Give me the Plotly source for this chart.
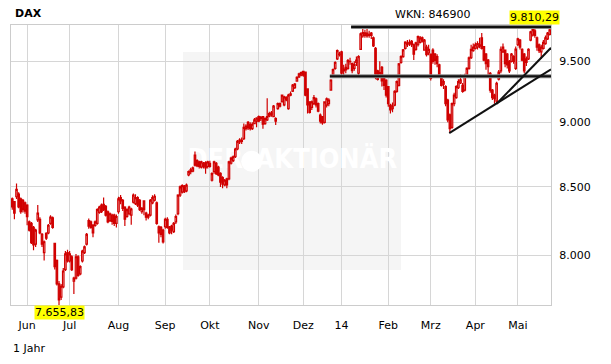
import math
import pandas as pd
import plotly.graph_objects as go

# ---------------- data (DAX daily candles) ----------------
open_px = [
    8410, 8390, 8426, 8446, 8410, 8400, 8380,  # May 2013
    8364, 8240, 8230, 8200, 8080, 8255, 8260, 8150, 8020, 8158, 8160, 8230, 8270, 8086, 7965, 7800, 7710, 7780, 7900, 8020,  # Jun
    7960, 7990, 7820, 7840, 7990, 7870, 7960, 8020, 8080, 8250, 8240, 8215, 8215, 8230, 8310, 8364, 8370, 8355, 8315, 8250, 8290, 8290, 8230,  # Jul
    8315, 8420, 8400, 8350, 8280, 8300, 8290, 8385, 8375, 8420, 8400, 8315, 8395, 8305, 8275, 8290, 8380, 8400, 8380, 8205, 8200, 8180,  # Aug
    8205, 8260, 8205, 8210, 8170, 8240, 8300, 8438, 8460, 8505, 8470, 8590, 8615, 8620, 8743, 8700, 8690, 8650, 8680, 8685, 8655,  # Sep
    8680, 8550, 8615, 8680, 8650, 8603, 8570, 8515, 8560, 8560, 8680, 8700, 8730, 8790, 8845, 8860, 8870, 8950, 9000, 8985, 8950, 8990, 9010,  # Oct
    9045, 9040, 9045, 8990, 9020, 9050, 9075, 9045, 9030, 9110, 9150, 9165, 9140, 9200, 9110, 9220, 9253, 9280, 9335, 9370, 9385,  # Nov
    9415, 9410, 9270, 9165, 9120, 9150, 9190, 9150, 9058, 9045, 9000, 9139, 9150, 9261, 9380, 9440, 9520, 9560,  # Dec
    9580, 9420, 9450, 9440, 9500, 9480, 9440, 9490, 9400, 9600, 9715, 9720, 9740, 9720, 9740, 9700, 9610, 9420, 9380, 9450, 9355, 9344,  # Jan 2014
    9290, 9139, 9110, 9139, 9250, 9300, 9490, 9540, 9610, 9640, 9650, 9670, 9640, 9600, 9640, 9660, 9700, 9595, 9620, 9570,  # Feb
    9560, 9595, 9560, 9540, 9470, 9370, 9310, 9290, 9180, 9060, 8960, 9150, 9200, 9280, 9320, 9300, 9260, 9380, 9440, 9530, 9590,  # Mar
    9610, 9620, 9640, 9700, 9625, 9560, 9510, 9400, 9260, 9220, 9170, 9350, 9420, 9580, 9595, 9560, 9500, 9500, 9540, 9440,  # Apr
    9640, 9680, 9600, 9560, 9520, 9520, 9680, 9724, 9760, 9700, 9640, 9580, 9610, 9650, 9690, 9730,  # May
]
high_px = [
    8420, 8395, 8526, 8460, 8420, 8410, 8390,
    8370, 8250, 8240, 8210, 8190, 8364, 8275, 8160, 8105, 8165, 8225, 8290, 8280, 8090, 7970, 7820, 7800, 7910, 8030, 8040,
    8030, 8000, 7850, 8010, 8000, 7930, 8040, 8070, 8160, 8265, 8250, 8225, 8250, 8340, 8360, 8375, 8420, 8365, 8325, 8310, 8300, 8300, 8295,
    8426, 8440, 8410, 8355, 8340, 8360, 8345, 8450, 8445, 8430, 8410, 8350, 8400, 8315, 8300, 8410, 8438, 8445, 8390, 8215, 8210, 8190,
    8270, 8275, 8210, 8220, 8240, 8295, 8445, 8510, 8520, 8515, 8525, 8625, 8645, 8655, 8770, 8710, 8700, 8700, 8690, 8695, 8700,
    8700, 8610, 8700, 8690, 8660, 8610, 8580, 8560, 8570, 8700, 8730, 8740, 8800, 8860, 8875, 8880, 8990, 8985, 9010, 9000, 9000, 9035, 9040,
    9055, 9050, 9050, 9040, 9195, 9085, 9090, 9140, 9040, 9160, 9160, 9225, 9215, 9210, 9230, 9250, 9310, 9320, 9375, 9405, 9415,
    9420, 9415, 9275, 9170, 9175, 9220, 9200, 9160, 9070, 9050, 9170, 9200, 9195, 9350, 9440, 9500, 9600, 9580,
    9590, 9470, 9480, 9520, 9530, 9490, 9500, 9540, 9550, 9745, 9790, 9770, 9790, 9760, 9750, 9710, 9620, 9430, 9500, 9460, 9380, 9350,
    9295, 9150, 9160, 9260, 9340, 9485, 9550, 9605, 9670, 9680, 9685, 9680, 9650, 9665, 9720, 9715, 9710, 9690, 9640, 9640,
    9565, 9610, 9570, 9560, 9480, 9380, 9350, 9300, 9190, 9070, 9160, 9240, 9300, 9350, 9390, 9320, 9395, 9450, 9540, 9640, 9650,
    9660, 9670, 9700, 9740, 9630, 9570, 9520, 9410, 9270, 9230, 9330, 9427, 9625, 9650, 9600, 9570, 9510, 9570, 9550, 9625,
    9700, 9690, 9610, 9570, 9540, 9610, 9760, 9790, 9810.29, 9710, 9650, 9640, 9680, 9720, 9750, 9775,
]
low_px = [
    8330, 8260, 8410, 8340, 8300, 8310, 8300,
    8216, 8170, 8080, 8036, 8060, 8240, 8150, 8060, 7964, 8110, 8150, 8220, 8190, 7900, 7790, 7655.83, 7690, 7770, 7890, 7950,
    7950, 7890, 7730, 7830, 7850, 7860, 7950, 8010, 8070, 8190, 8190, 8130, 8205, 8220, 8300, 8305, 8320, 8280, 8230, 8240, 8220, 8210, 8200,
    8300, 8370, 8320, 8210, 8270, 8290, 8220, 8375, 8365, 8350, 8320, 8300, 8290, 8250, 8260, 8280, 8370, 8390, 8220, 8090, 8130, 8085,
    8190, 8190, 8150, 8150, 8160, 8225, 8290, 8425, 8450, 8455, 8460, 8580, 8595, 8610, 8655, 8650, 8640, 8640, 8640, 8600, 8640,
    8645, 8540, 8600, 8590, 8580, 8500, 8490, 8505, 8490, 8550, 8670, 8690, 8720, 8780, 8830, 8830, 8860, 8935, 8940, 8935, 8940, 8985, 8960,
    9000, 9010, 8950, 8980, 9010, 9040, 9045, 9040, 8978, 9100, 9120, 9160, 9130, 9170, 9100, 9210, 9245, 9270, 9330, 9360, 9375,
    9370, 9210, 9070, 9070, 9099, 9140, 9120, 9080, 8990, 8980, 8990, 9120, 9130, 9255, 9370, 9430, 9510, 9540,
    9380, 9370, 9400, 9430, 9470, 9400, 9420, 9460, 9385, 9595, 9700, 9700, 9700, 9700, 9690, 9620, 9350, 9340, 9370, 9290, 9261, 9200,
    9125, 9070, 9080, 9130, 9240, 9290, 9480, 9530, 9600, 9620, 9630, 9620, 9510, 9590, 9625, 9650, 9660, 9590, 9540, 9550,
    9340, 9480, 9470, 9450, 9370, 9290, 9270, 9130, 9000, 8915, 8950, 9130, 9190, 9270, 9310, 9240, 9250, 9370, 9430, 9520, 9580,
    9600, 9600, 9610, 9600, 9500, 9430, 9370, 9240, 9180, 9150, 9150, 9340, 9400, 9570, 9450, 9440, 9401, 9490, 9480, 9427,
    9630, 9600, 9500, 9400, 9460, 9510, 9670, 9710, 9700, 9590, 9570, 9520, 9600, 9640, 9680, 9720,
]
close_px = [
    8350, 8305, 8481, 8350, 8315, 8330, 8320,
    8278, 8180, 8090, 8075, 8180, 8305, 8160, 8080, 8097, 8122, 8216, 8275, 8200, 7920, 7800, 7690, 7785, 7890, 8010, 7960,
    8010, 7900, 7840, 7990, 7860, 7920, 8030, 8060, 8150, 8210, 8200, 8160, 8240, 8330, 8350, 8315, 8330, 8290, 8240, 8300, 8245, 8230, 8280,
    8410, 8395, 8340, 8260, 8330, 8350, 8335, 8438, 8420, 8364, 8330, 8340, 8330, 8275, 8290, 8400, 8420, 8430, 8230, 8160, 8150, 8095,
    8260, 8200, 8160, 8180, 8230, 8280, 8438, 8500, 8510, 8465, 8513, 8615, 8630, 8645, 8665, 8660, 8655, 8690, 8655, 8645, 8690,
    8655, 8600, 8690, 8600, 8590, 8535, 8520, 8550, 8515, 8690, 8720, 8730, 8790, 8850, 8860, 8850, 8960, 8970, 8955, 8950, 8985, 9020, 9033,
    9010, 9030, 8985, 9030, 9045, 9070, 9060, 9130, 9010, 9150, 9130, 9220, 9205, 9180, 9220, 9230, 9302, 9310, 9365, 9395, 9405,
    9385, 9220, 9140, 9080, 9165, 9200, 9140, 9090, 9010, 8995, 9165, 9190, 9180, 9344, 9430, 9490, 9590, 9555,
    9400, 9435, 9428, 9506, 9498, 9421, 9473, 9510, 9540, 9733, 9745, 9742, 9715, 9730, 9720, 9630, 9392, 9349, 9406, 9336, 9300, 9220,
    9150, 9100, 9130, 9250, 9330, 9478, 9540, 9596, 9662, 9657, 9660, 9640, 9560, 9656, 9710, 9699, 9670, 9680, 9555, 9600,
    9358, 9500, 9507, 9480, 9380, 9300, 9330, 9150, 9020, 8950, 9150, 9220, 9290, 9330, 9345, 9250, 9380, 9440, 9530, 9600, 9620,
    9640, 9650, 9628, 9610, 9510, 9480, 9454, 9260, 9200, 9190, 9317, 9409, 9600, 9620, 9480, 9470, 9420, 9560, 9500, 9603,
    9690, 9620, 9510, 9420, 9490, 9600, 9750, 9770, 9720, 9620, 9590, 9620, 9660, 9700, 9740, 9768,
]

xetra_holidays = ["2013-12-24", "2013-12-25", "2013-12-26", "2013-12-31",
                  "2014-01-01", "2014-04-18", "2014-04-21", "2014-05-01"]
month_labels = ["Jun", "Jul", "Aug", "Sep", "Okt", "Nov", "Dez", "14", "Feb", "Mrz", "Apr", "Mai"]
y_tick_values = [8000, 8500, 9000, 9500]
y_tick_labels = ["8.000", "8.500", "9.000", "9.500"]

# drawn support / resistance lines (trading-day index, level)
resistance_levels = [9792, 9375]
resistance_from_day = [159.5, 149.5]
trend_days = [[205.7, 253.6], [228.0, 253.6]]
trend_values = [[8915, 9433], [9150, 9614]]

# ---------------- derived ----------------
trading_days = pd.bdate_range("2013-05-23", "2014-05-23", freq="C", holidays=xetra_holidays)
n = len(close_px)
assert len(trading_days) == n == len(open_px) == len(high_px) == len(low_px)
x_idx = list(range(n))
month_start_idx = [i for i in range(1, n) if trading_days[i].month != trading_days[i - 1].month]

y_min, y_max = min(low_px), max(high_px)
i_min, i_max = low_px.index(y_min), high_px.index(y_max)


def de_fmt(v):
    return f"{v:,.2f}".replace(",", "X").replace(".", ",").replace("X", ".")


FONT = "DejaVu Sans, Verdana, sans-serif"
RED = "#d00000"
GRID = "#d6d6d6"
X_RANGE = [-0.6, n - 0.4]

fig = go.Figure()

# watermark on the base (lower) subplot so candles draw over it
fig.add_trace(go.Scatter(
    x=[0.378, 0.584], y=[0.513, 0.513], mode="text",
    text=["<b>DER</b>", "<b>AKTIONÄR</b>"],
    textfont=dict(family="DejaVu Sans Condensed, Liberation Sans Narrow, DejaVu Sans", size=27, color="white"),
    xaxis="x", yaxis="y", hoverinfo="skip", showlegend=False))
fig.add_trace(go.Scatter(
    x=[0.4457], y=[0.513], mode="markers",
    marker=dict(size=21, color="white", line=dict(width=0)),
    xaxis="x", yaxis="y", hoverinfo="skip", showlegend=False))

fig.add_trace(go.Candlestick(
    x=x_idx, open=open_px, high=high_px, low=low_px, close=close_px,
    increasing=dict(line=dict(color=RED, width=1.2), fillcolor="white"),
    decreasing=dict(line=dict(color=RED, width=1.2), fillcolor=RED),
    whiskerwidth=0, xaxis="x2", yaxis="y2", showlegend=False, hoverinfo="skip"))

for lvl, start in zip(resistance_levels, resistance_from_day):
    fig.add_trace(go.Scatter(x=[start, X_RANGE[1]], y=[lvl, lvl], mode="lines",
                             line=dict(color="#8a8a8a", width=4), xaxis="x2", yaxis="y2",
                             hoverinfo="skip", showlegend=False))
    fig.add_trace(go.Scatter(x=[start, X_RANGE[1]], y=[lvl, lvl], mode="lines",
                             line=dict(color="#111111", width=2), xaxis="x2", yaxis="y2",
                             hoverinfo="skip", showlegend=False))
for tx, ty in zip(trend_days, trend_values):
    fig.add_trace(go.Scatter(x=tx, y=ty, mode="lines", line=dict(color="#111111", width=2),
                             xaxis="x2", yaxis="y2", hoverinfo="skip", showlegend=False))

tickfont = dict(family=FONT, size=11, color="#000000")
fig.update_layout(
    width=611, height=364, autosize=False,
    margin=dict(l=11, r=60, t=25, b=59),
    paper_bgcolor="white", plot_bgcolor="white",
    boxgap=0.0,
    showlegend=False,
    hovermode=False,
    xaxis=dict(range=[0, 1], visible=False, fixedrange=True),
    yaxis=dict(range=[0, 1], visible=False, fixedrange=True),
    xaxis2=dict(overlaying="x", anchor="y2", range=X_RANGE,
                tickmode="array", tickvals=month_start_idx, ticktext=month_labels,
                showgrid=True, gridcolor=GRID, gridwidth=1, zeroline=False,
                showline=True, linecolor="#cccccc", linewidth=1, mirror=True,
                ticks="", ticklabelstandoff=10, tickfont=tickfont,
                rangeslider=dict(visible=False)),
    yaxis2=dict(overlaying="y", anchor="x2", side="right", type="log",
                range=[math.log10(y_min), math.log10(y_max)],
                tickmode="array", tickvals=y_tick_values, ticktext=y_tick_labels,
                showgrid=True, gridcolor=GRID, gridwidth=1, zeroline=False,
                showline=True, linecolor="#cccccc", linewidth=1, mirror=True,
                ticks="", ticklabelstandoff=5, tickfont=tickfont),
    shapes=[dict(type="rect", xref="paper", yref="paper", x0=0.3185, x1=0.7222, y0=0.125, y1=0.9036,
                 fillcolor="#f5f5f5", line=dict(width=0), layer="below")],
    annotations=[
        dict(text="<b>DAX</b>", xref="paper", yref="paper", x=0.0028, y=1.041,
             xanchor="left", yanchor="middle", showarrow=False,
             font=dict(family=FONT, size=11, color="#000000")),
        dict(text="WKN: 846900", xref="paper", yref="paper", x=0.7069, y=1.038,
             xanchor="left", yanchor="middle", showarrow=False,
             font=dict(family=FONT, size=11, color="#000000")),
        dict(text="1 Jahr", xref="paper", yref="paper", x=-0.0005, y=-0.157,
             xanchor="left", yanchor="middle", showarrow=False,
             font=dict(family=FONT, size=11, color="#000000")),
        dict(text=de_fmt(y_max), xref="x2", yref="y2", x=i_max, y=math.log10(y_max),
             xanchor="center", yanchor="bottom", showarrow=False, bgcolor="#ffff00",
             borderpad=0, font=dict(family=FONT, size=11, color="#000000")),
        dict(text=de_fmt(y_min), xref="x2", yref="y2", x=i_min, y=math.log10(y_min),
             xanchor="center", yanchor="top", showarrow=False, bgcolor="#ffff00",
             borderpad=0, font=dict(family=FONT, size=11, color="#000000")),
    ],
)

fig.write_html("out.html", config={"displayModeBar": False, "staticPlot": True},
               post_script="document.body.style.margin='0';")
